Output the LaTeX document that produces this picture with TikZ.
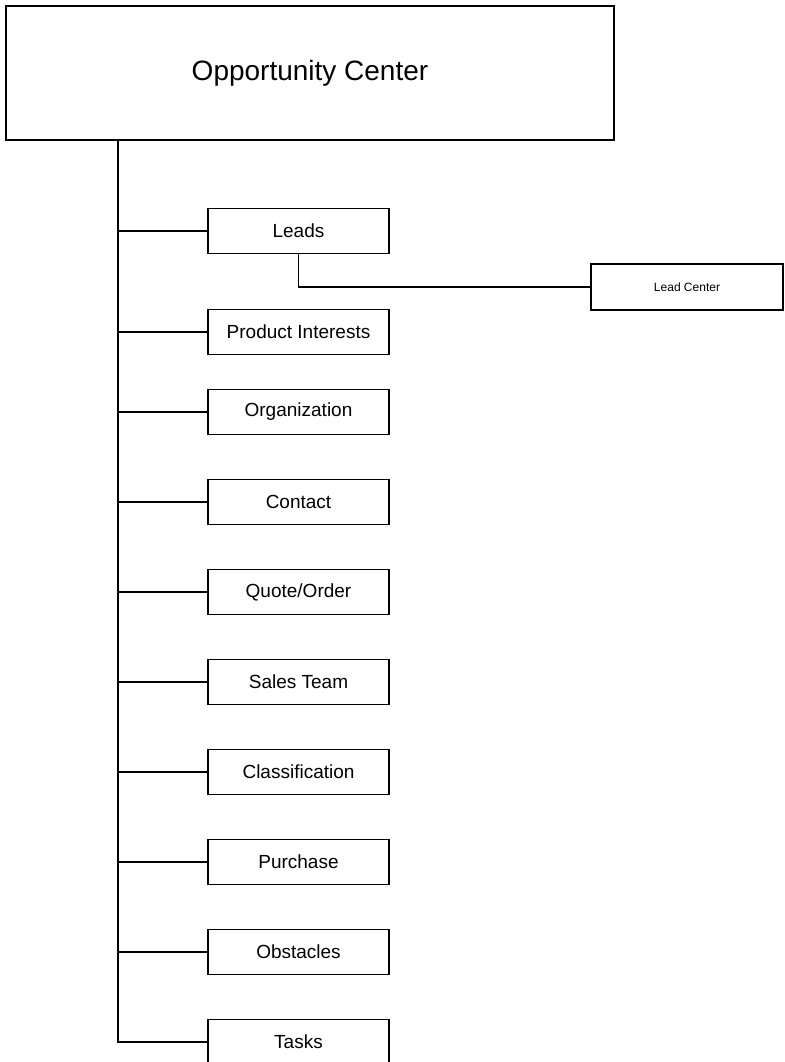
\documentclass[tikz,border=0pt]{standalone}
\usepackage{fontspec}
\setmainfont{Liberation Sans}
\begin{document}
\begin{tikzpicture}[x=1pt, y=-1pt,
  box/.style={shape=rectangle, draw=black, line width=1.5pt, inner sep=0pt},
  item/.style={box, minimum width=181pt, minimum height=45pt, font=\fontsize{19}{21}\selectfont},
  link/.style={-, line width=1.5pt, draw=black}]
\useasboundingbox (0,0) rectangle (784,1062);
\node[box, minimum width=608pt, minimum height=134pt, font=\fontsize{28}{32}\selectfont] (OC) at (310,73) {Opportunity Center};
\node[item] (1) at (298.5,231) {Leads};
\node[item] (2) at (298.5,332) {Product Interests};
\node[item] (3) at (298.5,412) {Organization};
\node[item] (4) at (298.5,502) {Contact};
\node[item] (5) at (298.5,592) {Quote/Order};
\node[item] (6) at (298.5,682) {Sales Team};
\node[item] (7) at (298.5,772) {Classification};
\node[item] (8) at (298.5,862) {Purchase};
\node[item] (9) at (298.5,952) {Obstacles};
\node[item] (10) at (298.5,1042) {Tasks};
\node[box, minimum width=192pt, minimum height=46pt, font=\fontsize{12}{14}\selectfont] (LC) at (687,287) {Lead Center};
\coordinate (T) at (118,140);
% trunk down to the last item
\draw [link] (T) |- (10.west);
\foreach \i in {1,...,9}
  \path [link] (\i.west) edge (\i.west -| T);
\draw [link] (1.south) |- (LC.west);
\end{tikzpicture}
\end{document}
